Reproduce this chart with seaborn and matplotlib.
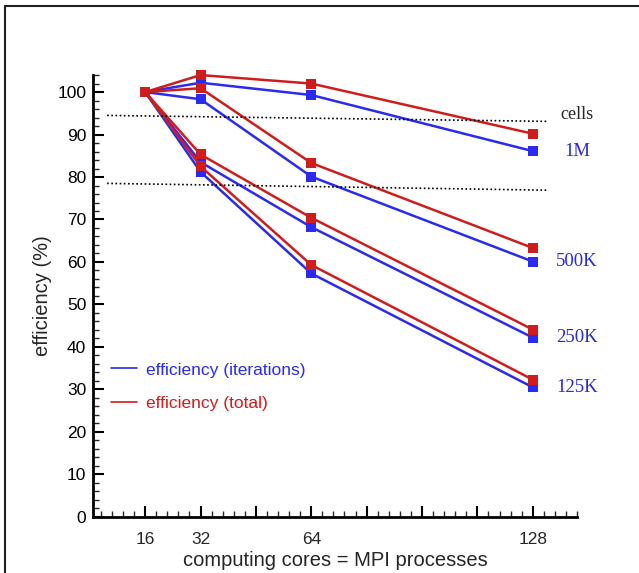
import matplotlib
matplotlib.use('Agg')
import matplotlib.pyplot as plt
from matplotlib.lines import Line2D
from matplotlib.ticker import MultipleLocator
import seaborn as sns
import pandas as pd

cores = [16, 32, 64, 128]
cells = ['1M', '500K', '250K', '125K']

# efficiency (%) per cell count
effIter = {
    '1M':   [100, 102.2, 99.3, 86.1],
    '500K': [100, 98.3, 80.1, 60.1],
    '250K': [100, 83.5, 68.2, 42.2],
    '125K': [100, 81.2, 57.3, 30.5],
}
effTotal = {
    '1M':   [100, 104.0, 102.0, 90.2],
    '500K': [100, 100.9, 83.3, 63.3],
    '250K': [100, 85.3, 70.4, 44.1],
    '125K': [100, 82.5, 59.3, 32.3],
}

# slightly tilted dotted guide lines
guideX = [5, 132]
guideUpper = [94.5, 93.1]
guideLower = [78.5, 76.9]

tickLabels = ['16', '32', '64', '128']

blue = '#2a2af0'
red = '#cf1d1d'

rows = []
for c in cells:
    for x, yi, yt in zip(cores, effIter[c], effTotal[c]):
        rows.append({'cores': x, 'cells': c, 'kind': 'iterations', 'eff': yi})
        rows.append({'cores': x, 'cells': c, 'kind': 'total', 'eff': yt})
df = pd.DataFrame(rows)

sns.set_style('white')
plt.rcParams['font.family'] = ['Liberation Sans', 'DejaVu Sans']

fig = plt.figure(figsize=(6.39, 5.73), dpi=100)
ax = fig.add_axes([0.146, 0.098, 0.757, 0.771])

for c in cells:
    for kind, col in [('iterations', blue), ('total', red)]:
        sub = df[(df['cells'] == c) & (df['kind'] == kind)]
        sns.lineplot(data=sub, x='cores', y='eff', ax=ax, color=col, marker='s',
                     markersize=7, markeredgewidth=0, linewidth=1.8, legend=False,
                     clip_on=False)

ax.plot(guideX, guideUpper, color='black', linestyle=(0, (1, 1.5)), linewidth=1.2)
ax.plot(guideX, guideLower, color='black', linestyle=(0, (1, 1.5)), linewidth=1.2)

ax.set_xlim(1, 140.8)
ax.set_ylim(0, 104)

ax.xaxis.set_major_locator(MultipleLocator(16))
ax.xaxis.set_minor_locator(MultipleLocator(3.2))
ax.set_xticklabels([])
for x, lab in zip(cores, tickLabels):
    ax.text(x, -3.5, lab, ha='center', va='top', fontsize=12.5)
ax.yaxis.set_major_locator(MultipleLocator(10))
ax.yaxis.set_minor_locator(MultipleLocator(2))
ax.tick_params(axis='both', which='both', bottom=True, left=True)
ax.tick_params(axis='both', which='major', direction='in', length=8, width=1.5,
               labelsize=12.5, colors='black')
ax.tick_params(axis='both', which='minor', direction='in', length=4, width=1)
ax.tick_params(axis='y', pad=5)

for side in ['top', 'right']:
    ax.spines[side].set_visible(False)
for side in ['left', 'bottom']:
    ax.spines[side].set_linewidth(2)
    ax.spines[side].set_color('black')

ax.set_xlabel('computing cores = MPI processes', fontsize=14.5, labelpad=21)
ax.set_ylabel('efficiency (%)', fontsize=14.5, labelpad=4)

ax.text(1.0, 0.9, 'cells', transform=ax.transAxes, ha='center', fontsize=13,
        family='Liberation Serif')
labelY = [effIter[c][-1] for c in cells]
for c, y in zip(cells, labelY):
    ax.text(1.0, 0, c, transform=ax.get_yaxis_transform(), ha='center', va='center',
            fontsize=13.5, family='Liberation Serif', color='#2b2bcf')
    ax.texts[-1].set_y(y)

handles = [Line2D([], [], color=blue, linewidth=1.2), Line2D([], [], color=red, linewidth=1.2)]
ax.legend(handles, ['efficiency (iterations)', 'efficiency (total)'], loc='upper left',
          bbox_to_anchor=(0.005, 0.385), frameon=False, fontsize=12.5, handlelength=1.5,
          handletextpad=0.5, labelspacing=1.05, labelcolor=[blue, red])

fig.add_artist(Line2D([0.008, 1.0], [0.99, 0.99], color='#222222', linewidth=1.5))
fig.add_artist(Line2D([0.008, 0.008], [0.0, 0.99], color='#222222', linewidth=1.5))

fig.savefig('out.png', dpi=100)
